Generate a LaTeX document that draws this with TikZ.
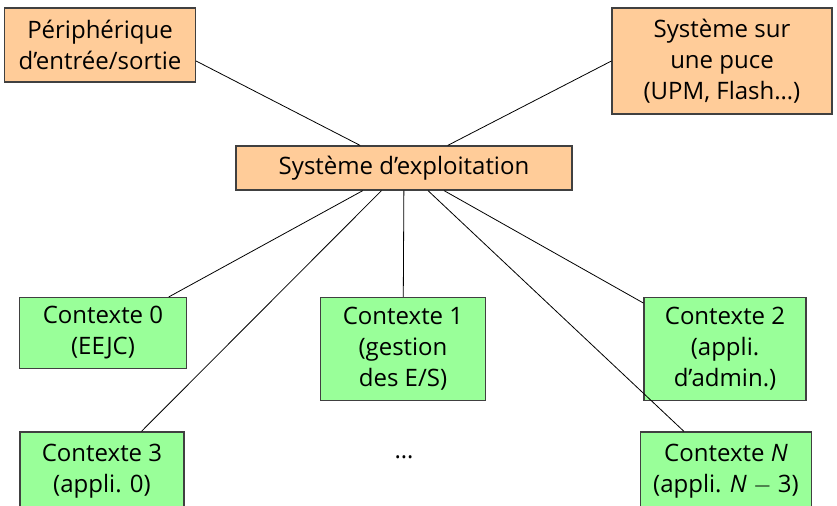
\documentclass[tikz,border=0pt]{standalone}
\usepackage{fontspec}
\setmainfont{Open Sans}
\usepackage{tikz}

\begin{document}
\begin{tikzpicture}[x=0.5pt,y=-0.5pt,
            boite/.style={draw=black!75, line width=0.6pt, align=center, inner sep=2pt, font=\fontsize{12}{15.5}\selectfont},
            materiel/.style={boite, fill=orange!40},
            contexte/.style={boite, fill=green!40}]
            \useasboundingbox (0,0) rectangle (837,505);

            \node[materiel, minimum width=95.5pt, minimum height=37pt] (periph) at (100,45) {Périphérique\\d’entrée/sortie};
            \node[materiel, minimum width=110pt, minimum height=53pt] (soc) at (722,61) {Système sur\\une puce\\(UPM, Flash…)};
            \node[materiel, minimum width=168pt, minimum height=22pt] (os) at (404,168) {Système d’exploitation};

            \node[contexte, minimum width=83.5pt, minimum height=35.5pt] (c0) at (103,333) {Contexte 0\\(EEJC)};
            \node[contexte, minimum width=82.5pt, minimum height=51.5pt] (c1) at (403,349) {Contexte 1\\(gestion\\des E/S)};
            \node[contexte, minimum width=81pt, minimum height=51.5pt] (c2) at (725,349) {Contexte 2\\(appli.\\d’admin.)};
            \node[contexte, minimum width=82pt, minimum height=39pt] (c3) at (102,471) {Contexte 3\\(appli. 0)};
            \node[contexte, minimum width=85.5pt, minimum height=39pt] (cN) at (726,471) {Contexte \textit{N}\\(appli. \textit{N} $-$ 3)};
            \node[font=\fontsize{12}{15.5}\selectfont] (etc) at (404,457) {…};

            \draw (os) -- (periph.east |- soc.west);
            \draw (os) -- (soc.west);
            \foreach \ctx in {c0,c1,c2,c3,cN}
                \draw (os) -- (\ctx);
        \end{tikzpicture}
\end{document}
